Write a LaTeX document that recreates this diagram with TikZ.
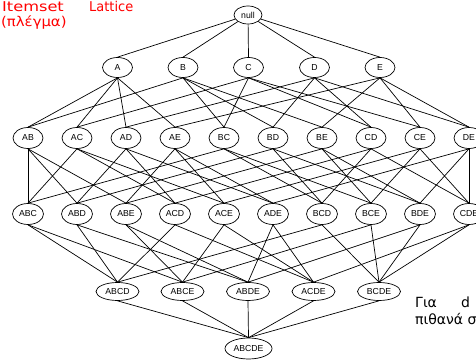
\documentclass[tikz,border=0pt]{standalone}
\usepackage{fontspec}
\setmainfont{Liberation Sans}
\newfontfamily\notefont{DejaVu Sans}
\usetikzlibrary{shapes.geometric}
\begin{document}
\begin{tikzpicture}[x=1pt,y=-1pt,
  set/.style={draw,ellipse,inner sep=0pt,line width=0.7pt,font=\fontsize{8.7}{9}\selectfont,fill=white},
  lone/.style={set,minimum width=30pt,minimum height=20pt},
  ltwo/.style={set,minimum width=30pt,minimum height=21pt},
  lthree/.style={set,minimum width=31pt,minimum height=21pt},
  lfour/.style={set,minimum width=43pt,minimum height=18pt},
  lfive/.style={set,minimum width=47pt,minimum height=21pt},
  edge/.style={line width=0.7pt},
  redtxt/.style={text=red,font=\notefont\fontsize{13.5}{16}\selectfont,anchor=base west,inner sep=0pt},
  blktxt/.style={text=black,font=\notefont\fontsize{14}{16}\selectfont,anchor=base west,inner sep=0pt}]
\useasboundingbox (0,0) rectangle (476,363);
\clip (0,0) rectangle (476,363);
% nodes
\node[set,minimum width=28pt,minimum height=18pt] (nnull) at (248,15) {null};
\foreach \n/\x in {A/117.5,B/183,C/248.5,D/314.5,E/380}
  \node[lone] (n\n) at (\x,67.5) {\n};
\foreach \n/\x in {AB/28,AC/77,AD/126,AE/175,BC/224,BD/273,BE/322,CD/371,CE/420,DE/469}
  \node[ltwo] (n\n) at (\x,138) {\n};
\foreach \n/\x in {ABC/28,ABD/77,ABE/126,ACD/175,ACE/224,ADE/273,BCD/322,BCE/371,BDE/420,CDE/469}
  \node[lthree] (n\n) at (\x,214) {\n};
\foreach \n/\x in {ABCD/117.5,ABCE/182.5,ABDE/248,ACDE/313.5,BCDE/379}
  \node[lfour] (n\n) at (\x,291.5) {\n};
\node[lfive] (nABCDE) at (248.5,348.5) {ABCDE};
% edges
\foreach \c in {A,B,C,D,E}
  \draw[edge] (nnull) -- (n\c.north);
\foreach \p/\cs in {A/{AB,AC,AD,AE},B/{AB,BC,BD,BE},C/{AC,BC,CD,CE},D/{AD,BD,CD,DE},E/{AE,BE,CE,DE}}
  \foreach \c in \cs \draw[edge] (n\p.south) -- (n\c.north);
\foreach \p/\cs in {AB/{ABC,ABD,ABE},AC/{ABC,ACD,ACE},AD/{ABD,ACD,ADE},AE/{ABE,ACE,ADE},BC/{ABC,BCD,BCE},BD/{ABD,BCD,BDE},BE/{ABE,BCE,BDE},CD/{ACD,BCD,CDE},CE/{ACE,BCE,CDE},DE/{ADE,BDE,CDE}}
  \foreach \c in \cs \draw[edge] (n\p.south) -- (n\c.north);
\foreach \p/\cs in {ABC/{ABCD,ABCE},ABD/{ABCD,ABDE},ABE/{ABCE,ABDE},ACD/{ABCD,ACDE},ACE/{ABCE,ACDE},ADE/{ABDE,ACDE},BCD/{ABCD,BCDE},BCE/{ABCE,BCDE},BDE/{ABDE,BCDE},CDE/{ACDE,BCDE}}
  \foreach \c in \cs \draw[edge] (n\p.south) -- (n\c.north);
\foreach \p in {ABCD,ABCE,ABDE,ACDE,BCDE}
  \draw[edge] (n\p.south) -- (nABCDE.north);
% texts
\node[redtxt] (t1) at (2,11.5) {\scalebox{1.2}[1]{Itemset}};
\node[redtxt] (t2) at (89,11.5) {\scalebox{0.96}[1]{Lattice}};
\node[redtxt] (t3) at (1,26.5) {\scalebox{1.1}[1]{(πλέγμα)}};
\node[blktxt] (t4) at (415,307) {Για};
\node[blktxt] (t5) at (461,307) {d};
\node[blktxt] (t6) at (415,324) {πιθανά σ};
\end{tikzpicture}
\end{document}
